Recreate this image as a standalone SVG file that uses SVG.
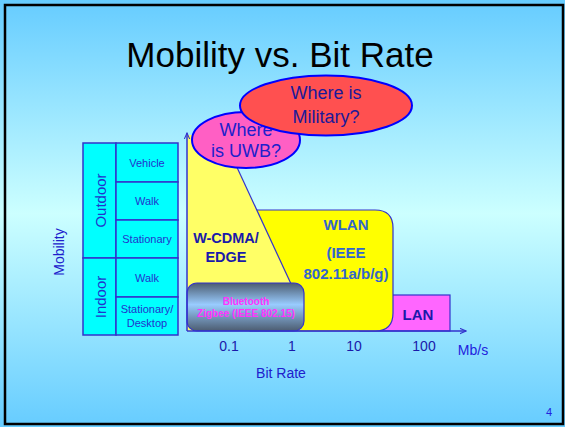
<svg xmlns="http://www.w3.org/2000/svg" width="565" height="427" viewBox="0 0 565 427">
  <defs>
    <linearGradient id="bg" x1="0" y1="0" x2="0" y2="1">
      <stop offset="0" stop-color="#66CCFF"/>
      <stop offset="0.5" stop-color="#CCFFFF"/>
      <stop offset="1" stop-color="#66CCFF"/>
    </linearGradient>
    <linearGradient id="btGrad" x1="0" y1="0" x2="0" y2="1">
      <stop offset="0" stop-color="#4C5C70"/>
      <stop offset="0.45" stop-color="#99CCFF"/>
      <stop offset="1" stop-color="#4C5C70"/>
    </linearGradient>
    <marker id="arrow" viewBox="0 0 10 10" refX="9" refY="5" markerWidth="7" markerHeight="7" orient="auto" markerUnits="userSpaceOnUse">
      <path d="M0,1 L9,5 L0,9" fill="none" stroke="#3333CC" stroke-width="1.5"/>
    </marker>
    <style>
      .sans { font-family: "Liberation Sans", Arial, sans-serif; }
      .cell { fill: #00FFFF; stroke: #3333CC; stroke-width: 1.5; }
      .cellText { font-family: "Liberation Sans", Arial, sans-serif; font-size: 11px; fill: #2233CC; text-anchor: middle; }
      .groupText { font-family: "Liberation Sans", Arial, sans-serif; font-size: 15px; fill: #2233CC; text-anchor: middle; }
      .tick { font-family: "Liberation Sans", Arial, sans-serif; font-size: 14px; fill: #1A1AAA; text-anchor: middle; }
      .bubble { font-family: "Liberation Sans", Arial, sans-serif; font-size: 18px; text-anchor: middle; }
      .bold { font-family: "Liberation Sans", Arial, sans-serif; font-weight: bold; text-anchor: middle; }
    </style>
  </defs>

  <!-- slide background and frame -->
  <rect x="0" y="0" width="565" height="427" fill="url(#bg)"/>
  <rect x="5" y="5" width="558" height="419" fill="none" stroke="#000000" stroke-width="2.5"/>

  <!-- title -->
  <text x="280" y="67" class="sans" font-size="35" fill="#000000" text-anchor="middle">Mobility vs. Bit Rate</text>

  <!-- mobility classification table -->
  <g id="mobility-table">
    <rect class="cell" x="83" y="143" width="33" height="115"/>
    <rect class="cell" x="83" y="258" width="33" height="77"/>
    <rect class="cell" x="116" y="143" width="62" height="39"/>
    <rect class="cell" x="116" y="182" width="62" height="38"/>
    <rect class="cell" x="116" y="220" width="62" height="38"/>
    <rect class="cell" x="116" y="258" width="62" height="39"/>
    <rect class="cell" x="116" y="297" width="62" height="38"/>
    <text class="groupText" transform="translate(106,200.5) rotate(-90)">Outdoor</text>
    <text class="groupText" transform="translate(106,297) rotate(-90)">Indoor</text>
    <text class="cellText" x="147" y="167">Vehicle</text>
    <text class="cellText" x="147" y="205">Walk</text>
    <text class="cellText" x="147" y="243">Stationary</text>
    <text class="cellText" x="147" y="282">Walk</text>
    <text class="cellText" x="147" y="313">Stationary/</text>
    <text class="cellText" x="147" y="327">Desktop</text>
  </g>

  <!-- axis titles -->
  <text class="sans" font-size="14" fill="#2020CC" text-anchor="middle" transform="translate(63.5,252) rotate(-90)">Mobility</text>
  <text class="sans" x="281" y="378" font-size="14" fill="#2020CC" text-anchor="middle">Bit Rate</text>

  <!-- coverage regions -->
  <g id="lan">
    <rect x="360" y="295" width="90" height="36" fill="#FF66FF" stroke="#3333CC" stroke-width="1.2"/>
    <text class="bold" x="418" y="320" font-size="15" fill="#1A1AAA">LAN</text>
  </g>

  <g id="wlan">
    <path d="M250,210 H375 Q393,210 393,228 V313 Q393,331 375,331 H250 Z" fill="#FFFF00" stroke="#3333CC" stroke-width="1.2"/>
  </g>

  <g id="wcdma">
    <path d="M187,135 L222,135 L292,286 L292,331 L187,331 Z" fill="#FFFF66"/>
    <line x1="222" y1="135" x2="292" y2="286" stroke="#3333CC" stroke-width="1.2"/>
    <text class="bold" x="226" y="243" font-size="14.5" fill="#1A1AAA">W-CDMA/</text>
    <text class="bold" x="226" y="262" font-size="14.5" fill="#1A1AAA">EDGE</text>
  </g>

  <g id="wlan-label">
    <text class="bold" x="346" y="230" font-size="15" fill="#3366CC">WLAN</text>
    <text class="bold" x="346" y="258" font-size="15" fill="#3366CC">(IEEE</text>
    <text class="bold" x="346" y="279" font-size="15" fill="#3366CC">802.11a/b/g)</text>
  </g>

  <g id="bluetooth">
    <rect x="187" y="283" width="117" height="48" rx="10" fill="url(#btGrad)" stroke="#3333CC" stroke-width="1.2"/>
    <text class="bold" x="246" y="305" font-size="10" fill="#FF33FF">Bluetooth</text>
    <text class="bold" x="246" y="317" font-size="10" fill="#FF33FF">Zigbee (IEEE 802.15)</text>
  </g>

  <!-- axes -->
  <g id="axes" fill="none" stroke="#3333CC" stroke-width="1.5">
    <line x1="187" y1="331" x2="187" y2="133" marker-end="url(#arrow)"/>
    <line x1="187" y1="331" x2="466" y2="331" marker-end="url(#arrow)"/>
  </g>

  <!-- bit rate tick labels -->
  <text class="tick" x="229" y="351">0.1</text>
  <text class="tick" x="292" y="351">1</text>
  <text class="tick" x="354" y="351">10</text>
  <text class="tick" x="424" y="351">100</text>
  <text class="sans" x="473" y="355" font-size="14" fill="#2222DD" text-anchor="middle">Mb/s</text>

  <!-- question bubbles -->
  <g id="uwb">
    <ellipse cx="246" cy="140" rx="54" ry="28" fill="#FF5FC4" stroke="#0000FF" stroke-width="2"/>
    <text class="bubble" x="246" y="136" fill="#2020CC">Where</text>
    <text class="bubble" x="246" y="157" fill="#2020CC">is UWB?</text>
  </g>

  <g id="military">
    <ellipse cx="326" cy="105.5" rx="86" ry="30" fill="#FF5050" stroke="#0000FF" stroke-width="2"/>
    <text class="bubble" x="326" y="99" fill="#1A1A99">Where is</text>
    <text class="bubble" x="326" y="123" fill="#1A1A99">Military?</text>
  </g>

  <!-- page number -->
  <text class="sans" x="549" y="416" font-size="11" fill="#2222DD" text-anchor="middle">4</text>
</svg>
